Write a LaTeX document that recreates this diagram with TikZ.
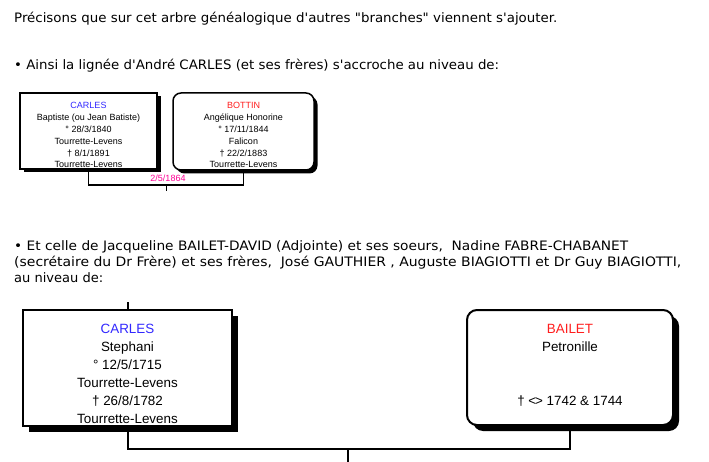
\documentclass[tikz,border=0pt]{standalone}
\usepackage{fontspec}
\setmainfont{Liberation Sans}
\newfontfamily\tahoma{DejaVu Sans Condensed}
\usetikzlibrary{shadows}
\definecolor{nameblue}{RGB}{50,40,255}
\definecolor{namered}{RGB}{255,30,30}
\definecolor{datemag}{RGB}{255,0,150}
\newcommand{\fitline}[2]{\resizebox{#1}{\height}{#2}}
\tikzset{
  toptext/.style={anchor=base west, inner sep=0pt, font=\tahoma\fontsize{13}{16}\selectfont},
  bigbox/.style={draw=black, line width=2pt, fill=white, inner sep=0pt,
    drop shadow={shadow xshift=6pt, shadow yshift=-6pt, opacity=1, fill=black}},
  smallbox/.style={draw=black, line width=1.5pt, fill=white, inner sep=0pt,
    drop shadow={shadow xshift=3.5pt, shadow yshift=-3.5pt, opacity=1, fill=black}},
  bigtext/.style={anchor=base, inner sep=0pt, font=\fontsize{13.4}{17.8}\selectfont},
  smalltext/.style={anchor=base, inner sep=0pt, font=\fontsize{9}{11.8}\selectfont},
  bigline/.style={line width=2pt},
  smallline/.style={line width=1.5pt}
}
\begin{document}
\begin{tikzpicture}[x=1pt,y=-1pt]
\useasboundingbox[fill=white] (0,0) rectangle (709,462);

% top texts
\node[toptext] (t1) at (14,23) {\fitline{543pt}{Précisons que sur cet arbre généalogique d'autres "branches" viennent s'ajouter.}};
\node[toptext] (t2) at (14,70) {\fitline{485pt}{• Ainsi la lignée d'André CARLES (et ses frères) s'accroche au niveau de:}};

% small boxes
\node[smallbox, minimum width=137pt, minimum height=76pt] (sb1) at (88.5,131) {};
\node[smallbox, rounded corners=8pt, minimum width=141pt, minimum height=77pt] (sb2) at (243.5,131.5) {};

\node[smalltext, text=nameblue] (s1a) at (88.5,109) {CARLES};
\node[smalltext] (s1b) at (88.5,120.8) {Baptiste (ou Jean Batiste)};
\node[smalltext] (s1c) at (88.5,132.6) {° 28/3/1840};
\node[smalltext] (s1d) at (88.5,144.4) {Tourrette-Levens};
\node[smalltext] (s1e) at (88.5,156.2) {† 8/1/1891};
\node[smalltext] (s1f) at (88.5,168) {Tourrette-Levens};

\node[smalltext, text=namered] (s2a) at (243.5,109) {BOTTIN};
\node[smalltext] (s2b) at (243.5,120.8) {Angélique Honorine};
\node[smalltext] (s2c) at (243.5,132.6) {° 17/11/1844};
\node[smalltext] (s2d) at (243.5,144.4) {Falicon};
\node[smalltext] (s2e) at (243.5,156.2) {† 22/2/1883};
\node[smalltext] (s2f) at (243.5,168) {Tourrette-Levens};

\coordinate (sm) at (166.5,185);
\coordinate (send) at (166.5,191);
\draw[smallline] (sb1.south) |- (sm) -| (sb2.south);
\draw[smallline] (sm) -- (send);
\node[smalltext, text=datemag] (sdate) at (168,182) {2/5/1864};

% second text block
\node[toptext] (t3) at (14,251) {\fitline{614pt}{• Et celle de Jacqueline BAILET-DAVID (Adjointe) et ses soeurs,\ \ Nadine FABRE-CHABANET}};
\node[toptext] (t4) at (14,267) {\fitline{667pt}{(secrétaire du Dr Frère) et ses frères,\ \ José GAUTHIER , Auguste BIAGIOTTI et Dr Guy BIAGIOTTI,}};
\node[toptext] (t5) at (14,283) {\fitline{89pt}{au niveau de:}};

% big boxes
\node[bigbox, minimum width=209pt, minimum height=116pt] (bb1) at (127.5,368) {};
\node[bigbox, rounded corners=10pt, minimum width=206pt, minimum height=115pt] (bb2) at (570,367.5) {};

\node[bigtext, text=nameblue] (b1a) at (127.5,333) {CARLES};
\node[bigtext] (b1b) at (127.5,351.8) {Stephani};
\node[bigtext] (b1c) at (127.5,369.6) {° 12/5/1715};
\node[bigtext] (b1d) at (127.5,387.4) {Tourrette-Levens};
\node[bigtext] (b1e) at (127.5,405.2) {† 26/8/1782};
\node[bigtext] (b1f) at (127.5,423) {Tourrette-Levens};

\node[bigtext, text=namered] (b2a) at (570,333) {BAILET};
\node[bigtext] (b2b) at (570,351.8) {Petronille};
\node[bigtext] (b2e) at (570,405.2) {† <\kern-1.2pt> 1742 \& 1744};

\coordinate (btop) at (127.5,302);
\coordinate (bm) at (348,449);
\coordinate (bend) at (348,462);
\draw[bigline] (btop) -- (bb1.north);
\draw[bigline] (bb1.south) |- (bm) -| (bb2.south);
\draw[bigline] (bm) -- (bend);
\end{tikzpicture}
\end{document}
